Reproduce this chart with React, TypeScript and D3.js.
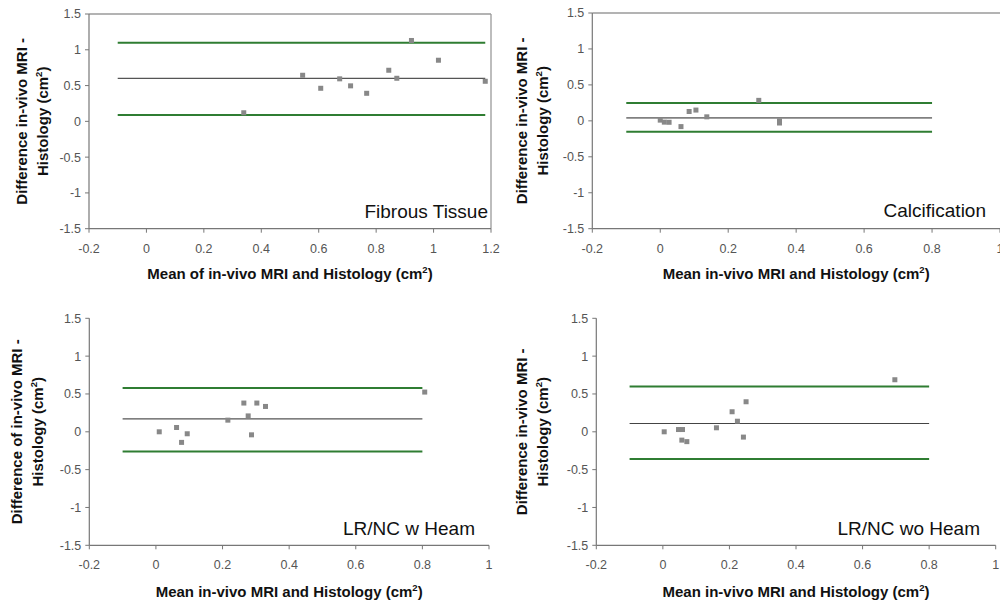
import React from "react";
import * as d3 from "d3";

// ---- Data ----
const fibrousX = [0.339, 0.544, 0.607, 0.673, 0.711, 0.767, 0.844, 0.872, 0.923, 1.017, 1.18];
const fibrousY = [0.12, 0.644, 0.462, 0.594, 0.496, 0.392, 0.714, 0.602, 1.13, 0.854, 0.56];
const fibrousLimits = [1.1, 0.6, 0.09];
const fibrousLineExtent = [-0.1, 1.18];

const calcX = [0.0, 0.012, 0.026, 0.061, 0.085, 0.105, 0.137, 0.29, 0.351, 0.351];
const calcY = [0.01, -0.018, -0.02, -0.08, 0.13, 0.15, 0.056, 0.285, 0.0, -0.03];
const calcLimits = [0.25, 0.04, -0.15];
const calcLineExtent = [-0.1, 0.8];

const wHeamX = [0.01, 0.062, 0.077, 0.094, 0.216, 0.264, 0.277, 0.287, 0.303, 0.329, 0.807];
const wHeamY = [0.0, 0.057, -0.14, -0.026, 0.154, 0.38, 0.21, -0.04, 0.38, 0.335, 0.525];
const wHeamLimits = [0.58, 0.17, -0.26];
const wHeamLineExtent = [-0.1, 0.8];

const woHeamX = [0.004, 0.047, 0.059, 0.057, 0.072, 0.161, 0.208, 0.224, 0.242, 0.25, 0.697];
const woHeamY = [0.0, 0.03, 0.03, -0.11, -0.13, 0.053, 0.265, 0.14, -0.07, 0.397, 0.688];
const woHeamLimits = [0.6, 0.11, -0.36];
const woHeamLineExtent = [-0.1, 0.8];

const yTicks = [-1.5, -1, -0.5, 0, 0.5, 1, 1.5];
const xTicksWide = [-0.2, 0, 0.2, 0.4, 0.6, 0.8, 1, 1.2];
const xTicksNarrow = [-0.2, 0, 0.2, 0.4, 0.6, 0.8, 1];

const panelNames = ["Fibrous Tissue", "Calcification", "LR/NC w Heam", "LR/NC wo Heam"];
const yTitleFirstLines = ["Difference in-vivo MRI -", "Difference in-vivo MRI -", "Difference of in-vivo MRI -", "Difference in-vivo MRI -"];
const xTitles = ["Mean of in-vivo MRI and Histology (cm", "Mean in-vivo MRI and Histology (cm", "Mean in-vivo MRI and Histology (cm", "Mean in-vivo MRI and Histology (cm"];

type PanelProps = {
  xs: number[]; ys: number[]; limits: number[]; ext: number[];
  xTicks: number[]; xDomain: [number, number];
  left: number; right: number; top: number; bottom: number;
  border: "tr" | "t" | "none";
  name: string; yTitle1: string; xTitle: string;
  yTitleX: number; yTitleGap: number; xTitleY: number;
  nameRight: number; nameBaseline: number;
  meanColor: string; meanWidth: number;
};

const fmt = (v: number) => (Math.abs(v) < 1e-9 ? "0" : String(+v.toFixed(1)));

function Panel(p: PanelProps) {
  const x = d3.scaleLinear().domain(p.xDomain).range([p.left, p.right]);
  const y = d3.scaleLinear().domain([-1.5, 1.5]).range([p.bottom, p.top]);
  const font = "'Liberation Sans', Arial, sans-serif";
  const green = "#2f7d32";
  const midY = (p.top + p.bottom) / 2;
  const midX = (p.left + p.right) / 2;
  const topEnd = p.border === "tr" ? p.right : 1000;
  return (
    <g>
      {p.border !== "none" && (
        <line x1={p.left} x2={topEnd} y1={p.top} y2={p.top} stroke="#9a9a9a" strokeWidth={1.3} />
      )}
      {p.border === "tr" && (
        <line x1={p.right} x2={p.right} y1={p.top} y2={p.bottom} stroke="#9a9a9a" strokeWidth={1.3} />
      )}
      {/* axes */}
      <line x1={p.left} x2={p.left} y1={p.top} y2={p.bottom} stroke="#777" strokeWidth={1.2} />
      <line x1={p.left} x2={p.right} y1={p.bottom} y2={p.bottom} stroke="#777" strokeWidth={1.2} />
      {yTicks.map((t) => (
        <g key={"y" + t}>
          <line x1={p.left - 4} x2={p.left} y1={y(t)} y2={y(t)} stroke="#777" />
          <text x={p.left - 8} y={y(t)} dy="0.35em" textAnchor="end" fontSize={12.5} fontFamily={font} fill="#555">
            {fmt(t)}
          </text>
        </g>
      ))}
      {p.xTicks.map((t) => (
        <g key={"x" + t}>
          <line x1={x(t)} x2={x(t)} y1={p.bottom} y2={p.bottom + 4} stroke="#777" />
          <text x={x(t)} y={p.bottom + 24} textAnchor="middle" fontSize={12.5} fontFamily={font} fill="#555">
            {fmt(t)}
          </text>
        </g>
      ))}
      {/* limit lines */}
      <line x1={x(p.ext[0])} x2={x(p.ext[1])} y1={y(p.limits[0])} y2={y(p.limits[0])} stroke={green} strokeWidth={2} />
      <line x1={x(p.ext[0])} x2={x(p.ext[1])} y1={y(p.limits[1])} y2={y(p.limits[1])} stroke={p.meanColor} strokeWidth={p.meanWidth} />
      <line x1={x(p.ext[0])} x2={x(p.ext[1])} y1={y(p.limits[2])} y2={y(p.limits[2])} stroke={green} strokeWidth={2} />
      {/* points */}
      {p.xs.map((v, i) => (
        <rect key={i} x={x(v) - 2.5} y={y(p.ys[i]) - 2.5} width={5} height={5} fill="#888" />
      ))}
      {/* name */}
      <text x={p.nameRight} y={p.nameBaseline} textAnchor="end" fontSize={19} fontFamily={font} fill="#111">
        {p.name}
      </text>
      {/* y title */}
      <g transform={`translate(${p.yTitleX},${midY}) rotate(-90)`}>
        <text x={0} y={0} textAnchor="middle" fontSize={15} fontWeight="bold" fontFamily={font} fill="#111">
          {p.yTitle1}
        </text>
        <text x={0} y={p.yTitleGap} textAnchor="middle" fontSize={15} fontWeight="bold" fontFamily={font} fill="#111">
          Histology (cm<tspan fontSize={9.5} dy={-6}>2</tspan><tspan dy={6}>)</tspan>
        </text>
      </g>
      {/* x title */}
      <text x={midX} y={p.xTitleY} textAnchor="middle" fontSize={15} fontWeight="bold" fontFamily={font} fill="#111">
        {p.xTitle}<tspan fontSize={9.5} dy={-6}>2</tspan><tspan dy={6}>)</tspan>
      </text>
    </g>
  );
}

export default function App() {
  return (
    <svg width={1000} height={608} style={{ position: "absolute", left: 0, top: 0, background: "#fff" }}>
      <rect width={1000} height={608} fill="#fff" />
      <Panel xs={fibrousX} ys={fibrousY} limits={fibrousLimits} ext={fibrousLineExtent}
        xTicks={xTicksWide} xDomain={[-0.2, 1.2]} left={89} right={491} top={14} bottom={228.7}
        border="tr" name={panelNames[0]} yTitle1={yTitleFirstLines[0]} xTitle={xTitles[0]}
        yTitleX={27} yTitleGap={21} xTitleY={279} nameRight={488} nameBaseline={218}
        meanColor="#555" meanWidth={1.2} />
      <Panel xs={calcX} ys={calcY} limits={calcLimits} ext={calcLineExtent}
        xTicks={xTicksNarrow} xDomain={[-0.2, 1]} left={592.3} right={1000} top={13} bottom={228.7}
        border="t" name={panelNames[1]} yTitle1={yTitleFirstLines[1]} xTitle={xTitles[1]}
        yTitleX={527} yTitleGap={21} xTitleY={279} nameRight={986} nameBaseline={217}
        meanColor="#808080" meanWidth={1.8} />
      <Panel xs={wHeamX} ys={wHeamY} limits={wHeamLimits} ext={wHeamLineExtent}
        xTicks={xTicksNarrow} xDomain={[-0.2, 1]} left={89.3} right={489} top={318.3} bottom={545.3}
        border="none" name={panelNames[2]} yTitle1={yTitleFirstLines[2]} xTitle={xTitles[2]}
        yTitleX={22} yTitleGap={21} xTitleY={597} nameRight={475} nameBaseline={535}
        meanColor="#555" meanWidth={1.2} />
      <Panel xs={woHeamX} ys={woHeamY} limits={woHeamLimits} ext={woHeamLineExtent}
        xTicks={xTicksNarrow} xDomain={[-0.2, 1]} left={596.3} right={995.7} top={318.3} bottom={545.3}
        border="none" name={panelNames[3]} yTitle1={yTitleFirstLines[3]} xTitle={xTitles[3]}
        yTitleX={527} yTitleGap={21} xTitleY={597} nameRight={980} nameBaseline={535}
        meanColor="#444" meanWidth={1.2} />
    </svg>
  );
}
